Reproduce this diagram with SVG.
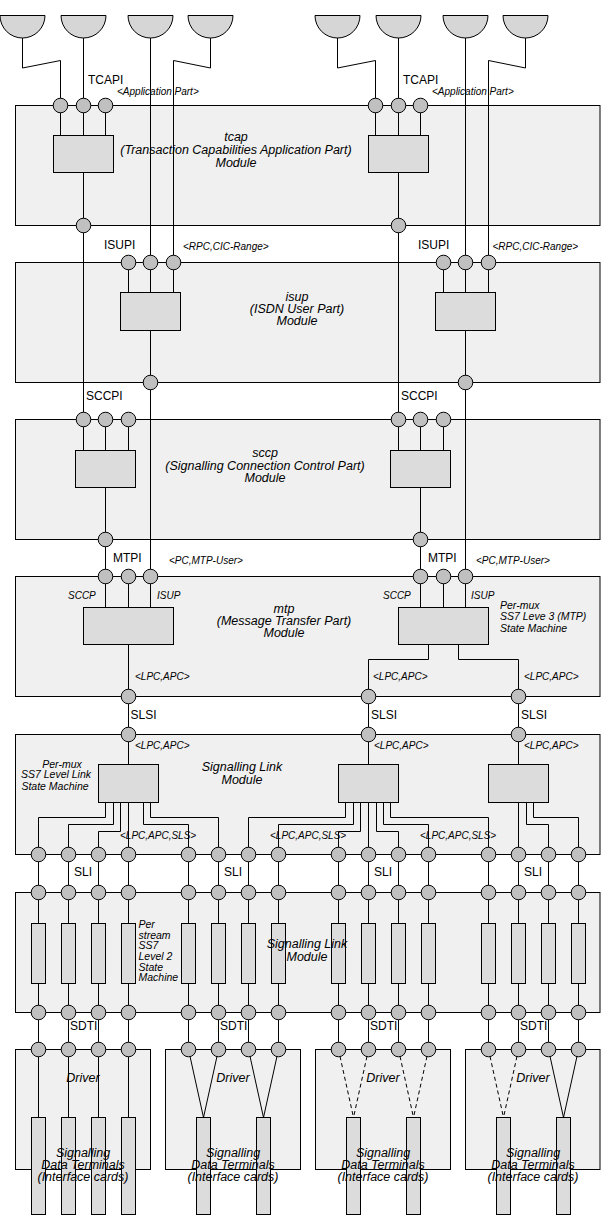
<svg xmlns="http://www.w3.org/2000/svg" width="601" height="1216" viewBox="0 0 601 1216">
<style>
.mod{fill:#f0f0f0;stroke:#000;stroke-width:1}
.box{fill:#dcdcdc;stroke:#000;stroke-width:1}
.cup{fill:#d6d6d6;stroke:#000;stroke-width:1}
.port{fill:#c0c0c0;stroke:#000;stroke-width:1}
#wires path{fill:none;stroke:#000;stroke-width:1}
#wires path.dash{stroke-dasharray:4 3}
text{font-family:"Liberation Sans",Arial,Helvetica,sans-serif;fill:#000}
.lbl{font-size:12px}
.sm{font-size:10px;font-style:italic}
.ttl{font-size:12.5px;font-style:italic;text-anchor:middle}
.note{font-size:10.5px;font-style:italic}
.mid{text-anchor:middle}
</style>
<defs><circle id="p" r="7.3" class="port"/></defs>
<rect width="601" height="1216" fill="#fff"/>

<!-- application endpoints -->
<g id="app-1"><path class="cup" d="M0,15.5 A22.5,22.5 0 0 0 45,15.5 Z"/></g>
<g id="app-2"><path class="cup" d="M61,15.5 A22.5,22.5 0 0 0 106,15.5 Z"/></g>
<g id="app-3"><path class="cup" d="M128,15.5 A22.5,22.5 0 0 0 173,15.5 Z"/></g>
<g id="app-4"><path class="cup" d="M188,15.5 A22.5,22.5 0 0 0 233,15.5 Z"/></g>
<g id="app-5"><path class="cup" d="M315,15.5 A22.5,22.5 0 0 0 360,15.5 Z"/></g>
<g id="app-6"><path class="cup" d="M376,15.5 A22.5,22.5 0 0 0 421,15.5 Z"/></g>
<g id="app-7"><path class="cup" d="M443,15.5 A22.5,22.5 0 0 0 488,15.5 Z"/></g>
<g id="app-8"><path class="cup" d="M503,15.5 A22.5,22.5 0 0 0 548,15.5 Z"/></g>

<!-- modules -->
<g id="tcap">
<rect class="mod" x="15.5" y="105.5" width="584.5" height="120"/>
<g id="tcap-sm-a"><rect class="box" x="53.5" y="135.5" width="60" height="37"/></g>
<g id="tcap-sm-b"><rect class="box" x="368.5" y="135.5" width="60" height="37"/></g>
<text class="ttl" x="236" y="141">tcap</text>
<text class="ttl" x="236" y="154">(Transaction Capabilities Application Part)</text>
<text class="ttl" x="236" y="167">Module</text>
</g>

<g id="isup">
<rect class="mod" x="15.5" y="262.5" width="584.5" height="120"/>
<g id="isup-sm-a"><rect class="box" x="120.5" y="292.5" width="60" height="38"/></g>
<g id="isup-sm-b"><rect class="box" x="435.5" y="292.5" width="60" height="38"/></g>
<text class="ttl" x="297" y="300.5">isup</text>
<text class="ttl" x="297" y="312.5">(ISDN User Part)</text>
<text class="ttl" x="297" y="324.5">Module</text>
</g>

<g id="sccp">
<rect class="mod" x="15.5" y="419.5" width="584.5" height="120"/>
<g id="sccp-sm-a"><rect class="box" x="75.5" y="450.5" width="60" height="37"/></g>
<g id="sccp-sm-b"><rect class="box" x="390.5" y="450.5" width="60" height="37"/></g>
<text class="ttl" x="265" y="457">sccp</text>
<text class="ttl" x="265" y="469.5">(Signalling Connection Control Part)</text>
<text class="ttl" x="265" y="482">Module</text>
</g>

<g id="mtp">
<rect class="mod" x="15.5" y="576.5" width="584.5" height="120"/>
<g id="mtp-sm-a"><rect class="box" x="83.5" y="607.5" width="90" height="37"/></g>
<g id="mtp-sm-b"><rect class="box" x="398.5" y="607.5" width="90" height="37"/></g>
<text class="ttl" x="284" y="613">mtp</text>
<text class="ttl" x="284" y="625">(Message Transfer Part)</text>
<text class="ttl" x="284" y="637">Module</text>
<text class="sm" x="68" y="598.5">SCCP</text>
<text class="sm" x="157" y="598.5">ISUP</text>
<text class="sm" x="383" y="598.5">SCCP</text>
<text class="sm" x="471" y="598.5">ISUP</text>
<text class="note" x="500" y="608.5">Per-mux</text>
<text class="note" x="500" y="620">SS7 Leve 3 (MTP)</text>
<text class="note" x="500" y="631.5">State Machine</text>
</g>

<g id="sl">
<rect class="mod" x="15.5" y="734.5" width="584.5" height="120"/>
<g id="sl-sm-a"><rect class="box" x="98.5" y="764.5" width="60" height="38"/></g>
<g id="sl-sm-b"><rect class="box" x="338.5" y="764.5" width="60" height="38"/></g>
<g id="sl-sm-c"><rect class="box" x="488.5" y="764.5" width="60" height="38"/></g>
<text class="ttl" x="242" y="771">Signalling Link</text>
<text class="ttl" x="242" y="784">Module</text>
<text class="note mid" x="62" y="768">Per-mux</text>
<text class="note mid" x="56" y="778">SS7 Level Link</text>
<text class="note mid" x="55" y="789.5">State Machine</text>
</g>

<g id="l2">
<rect class="mod" x="15.5" y="892.5" width="584.5" height="120"/>
<g id="l2-sm">
<rect class="box" x="31.5" y="923.5" width="14" height="60"/>
<rect class="box" x="61.5" y="923.5" width="14" height="60"/>
<rect class="box" x="91.5" y="923.5" width="14" height="60"/>
<rect class="box" x="121.5" y="923.5" width="14" height="60"/>
<rect class="box" x="181.5" y="923.5" width="14" height="60"/>
<rect class="box" x="211.5" y="923.5" width="14" height="60"/>
<rect class="box" x="241.5" y="923.5" width="14" height="60"/>
<rect class="box" x="271.5" y="923.5" width="14" height="60"/>
<rect class="box" x="331.5" y="923.5" width="14" height="60"/>
<rect class="box" x="361.5" y="923.5" width="14" height="60"/>
<rect class="box" x="391.5" y="923.5" width="14" height="60"/>
<rect class="box" x="421.5" y="923.5" width="14" height="60"/>
<rect class="box" x="481.5" y="923.5" width="14" height="60"/>
<rect class="box" x="511.5" y="923.5" width="14" height="60"/>
<rect class="box" x="541.5" y="923.5" width="14" height="60"/>
<rect class="box" x="571.5" y="923.5" width="14" height="60"/>
</g>
<text class="ttl" x="307" y="947.5">Signalling Link</text>
<text class="ttl" x="307" y="960.5">Module</text>
<text class="note" x="138.5" y="927.5">Per</text>
<text class="note" x="138.5" y="938.5">stream</text>
<text class="note" x="138.5" y="949">SS7</text>
<text class="note" x="138.5" y="960">Level 2</text>
<text class="note" x="138.5" y="970.5">State</text>
<text class="note" x="138.5" y="981">Machine</text>
</g>

<g id="drv-1">
<rect class="mod" x="15.5" y="1049.5" width="135" height="120"/>
<rect class="box" x="31.5" y="1117.5" width="14" height="97"/>
<rect class="box" x="61.5" y="1117.5" width="14" height="97"/>
<rect class="box" x="91.5" y="1117.5" width="14" height="97"/>
<rect class="box" x="121.5" y="1117.5" width="14" height="97"/>
</g>
<g id="drv-2">
<rect class="mod" x="165.5" y="1049.5" width="135" height="120"/>
<rect class="box" x="196.5" y="1117.5" width="14" height="97"/>
<rect class="box" x="256.5" y="1117.5" width="14" height="97"/>
</g>
<g id="drv-3">
<rect class="mod" x="315.5" y="1049.5" width="135" height="120"/>
<rect class="box" x="346.5" y="1117.5" width="14" height="97"/>
<rect class="box" x="406.5" y="1117.5" width="14" height="97"/>
</g>
<g id="drv-4">
<rect class="mod" x="465.5" y="1049.5" width="134.5" height="120"/>
<rect class="box" x="496.5" y="1117.5" width="14" height="97"/>
<rect class="box" x="556.5" y="1117.5" width="14" height="97"/>
</g>

<!-- connectors -->
<g id="wires">
<path d="M22.5,38 V68 L60.5,60.5 V105.5"/>
<path d="M83.5,38 V105.5"/>
<path d="M150.5,38 V262.5"/>
<path d="M210.5,38 V68 L173.5,60.5 V262.5"/>
<path d="M337.5,38 V68 L375.5,60.5 V105.5"/>
<path d="M398.5,38 V105.5"/>
<path d="M465.5,38 V262.5"/>
<path d="M525.5,38 V68 L488.5,60.5 V262.5"/>
<path d="M60.5,105.5 V135.5 M83.5,105.5 V135.5 M105.5,105.5 V135.5 M83.5,172.5 V225.5"/>
<path d="M375.5,105.5 V135.5 M398.5,105.5 V135.5 M420.5,105.5 V135.5 M398.5,172.5 V225.5"/>
<path d="M83.5,225.5 V419.5"/>
<path d="M398.5,225.5 V419.5"/>
<path d="M128.5,262.5 V292.5 M150.5,262.5 V292.5 M173.5,262.5 V292.5 M150.5,330.5 V382.5"/>
<path d="M443.5,262.5 V292.5 M465.5,262.5 V292.5 M488.5,262.5 V292.5 M465.5,330.5 V382.5"/>
<path d="M150.5,382.5 V576.5"/>
<path d="M465.5,382.5 V576.5"/>
<path d="M83.5,419.5 V450.5 M105.5,419.5 V450.5 M128.5,419.5 V450.5 M105.5,487.5 V539.5"/>
<path d="M398.5,419.5 V450.5 M420.5,419.5 V450.5 M443.5,419.5 V450.5 M420.5,487.5 V539.5"/>
<path d="M105.5,539.5 V576.5"/>
<path d="M420.5,539.5 V576.5"/>
<path d="M105.5,576.5 V607.5 M128.5,576.5 V607.5 M150.5,576.5 V607.5 M128.5,644.5 V696.5"/>
<path d="M420.5,576.5 V607.5 M443.5,576.5 V607.5 M465.5,576.5 V607.5"/>
<path d="M428.5,644.5 V659.5 H368.5 V696.5"/>
<path d="M458.5,644.5 V659.5 H518.5 V696.5"/>
<path d="M128.5,696.5 V764.5"/>
<path d="M368.5,696.5 V764.5"/>
<path d="M518.5,696.5 V764.5"/>
<path d="M105.5,802.5 V817.5 H38.5 V854.5"/>
<path d="M113.5,802.5 V824.5 H68.5 V854.5"/>
<path d="M120.5,802.5 V831.5 H98.5 V854.5"/>
<path d="M128.5,802.5 V854.5"/>
<path d="M143.5,802.5 V824.5 H188.5 V854.5"/>
<path d="M150.5,802.5 V817.5 H218.5 V854.5"/>
<path d="M345.5,802.5 V817.5 H248.5 V854.5"/>
<path d="M353.5,802.5 V824.5 H278.5 V854.5"/>
<path d="M360.5,802.5 V831.5 H338.5 V854.5"/>
<path d="M368.5,802.5 V854.5"/>
<path d="M376.5,802.5 V831.5 H398.5 V854.5"/>
<path d="M383.5,802.5 V824.5 H428.5 V854.5"/>
<path d="M390.5,802.5 V817.5 H488.5 V854.5"/>
<path d="M518.5,802.5 V854.5"/>
<path d="M526.5,802.5 V824.5 H548.5 V854.5"/>
<path d="M533.5,802.5 V817.5 H578.5 V854.5"/>
<path d="M38.5,854.5 V923.5 M38.5,983.5 V1049.5 M68.5,854.5 V923.5 M68.5,983.5 V1049.5 M98.5,854.5 V923.5 M98.5,983.5 V1049.5 M128.5,854.5 V923.5 M128.5,983.5 V1049.5"/>
<path d="M188.5,854.5 V923.5 M188.5,983.5 V1049.5 M218.5,854.5 V923.5 M218.5,983.5 V1049.5 M248.5,854.5 V923.5 M248.5,983.5 V1049.5 M278.5,854.5 V923.5 M278.5,983.5 V1049.5"/>
<path d="M338.5,854.5 V923.5 M338.5,983.5 V1049.5 M368.5,854.5 V923.5 M368.5,983.5 V1049.5 M398.5,854.5 V923.5 M398.5,983.5 V1049.5 M428.5,854.5 V923.5 M428.5,983.5 V1049.5"/>
<path d="M488.5,854.5 V923.5 M488.5,983.5 V1049.5 M518.5,854.5 V923.5 M518.5,983.5 V1049.5 M548.5,854.5 V923.5 M548.5,983.5 V1049.5 M578.5,854.5 V923.5 M578.5,983.5 V1049.5"/>
<path d="M38.5,1049.5 V1117.5 M68.5,1049.5 V1117.5 M98.5,1049.5 V1117.5 M128.5,1049.5 V1117.5"/>
<path d="M188.5,1049.5 L203.5,1117.5 M218.5,1049.5 L203.5,1117.5"/>
<path d="M248.5,1049.5 L263.5,1117.5 M278.5,1049.5 L263.5,1117.5"/>
<path class="dash" d="M338.5,1049.5 L353.5,1117.5 M368.5,1049.5 L353.5,1117.5"/>
<path class="dash" d="M398.5,1049.5 L413.5,1117.5 M428.5,1049.5 L413.5,1117.5"/>
<path class="dash" d="M488.5,1049.5 L503.5,1117.5 M518.5,1049.5 L503.5,1117.5"/>
<path d="M548.5,1049.5 L563.5,1117.5 M578.5,1049.5 L563.5,1117.5"/>
</g>

<!-- ports / interfaces -->
<g id="tcapi-a"><use href="#p" x="60.5" y="105.5"/><use href="#p" x="83.5" y="105.5"/><use href="#p" x="105.5" y="105.5"/>
<text class="lbl" x="88" y="84">TCAPI</text><text class="sm" x="117" y="95">&lt;Application Part&gt;</text></g>
<g id="tcapi-b"><use href="#p" x="375.5" y="105.5"/><use href="#p" x="398.5" y="105.5"/><use href="#p" x="420.5" y="105.5"/>
<text class="lbl" x="403" y="84">TCAPI</text><text class="sm" x="432" y="95">&lt;Application Part&gt;</text></g>
<g id="tcap-out-a"><use href="#p" x="83.5" y="225.5"/></g>
<g id="tcap-out-b"><use href="#p" x="398.5" y="225.5"/></g>

<g id="isupi-a"><use href="#p" x="128.5" y="262.5"/><use href="#p" x="150.5" y="262.5"/><use href="#p" x="173.5" y="262.5"/>
<text class="lbl" x="104" y="248.5">ISUPI</text><text class="sm" x="183" y="250">&lt;RPC,CIC-Range&gt;</text></g>
<g id="isupi-b"><use href="#p" x="443.5" y="262.5"/><use href="#p" x="465.5" y="262.5"/><use href="#p" x="488.5" y="262.5"/>
<text class="lbl" x="418" y="248.5">ISUPI</text><text class="sm" x="492.5" y="250">&lt;RPC,CIC-Range&gt;</text></g>
<g id="isup-out-a"><use href="#p" x="150.5" y="382.5"/></g>
<g id="isup-out-b"><use href="#p" x="465.5" y="382.5"/></g>

<g id="sccpi-a"><use href="#p" x="83.5" y="419.5"/><use href="#p" x="105.5" y="419.5"/><use href="#p" x="128.5" y="419.5"/>
<text class="lbl" x="86" y="400">SCCPI</text></g>
<g id="sccpi-b"><use href="#p" x="398.5" y="419.5"/><use href="#p" x="420.5" y="419.5"/><use href="#p" x="443.5" y="419.5"/>
<text class="lbl" x="401" y="400">SCCPI</text></g>
<g id="sccp-out-a"><use href="#p" x="105.5" y="539.5"/></g>
<g id="sccp-out-b"><use href="#p" x="420.5" y="539.5"/></g>

<g id="mtpi-a"><use href="#p" x="105.5" y="576.5"/><use href="#p" x="128.5" y="576.5"/><use href="#p" x="150.5" y="576.5"/>
<text class="lbl" x="113" y="562">MTPI</text><text class="sm" x="169" y="564">&lt;PC,MTP-User&gt;</text></g>
<g id="mtpi-b"><use href="#p" x="420.5" y="576.5"/><use href="#p" x="443.5" y="576.5"/><use href="#p" x="465.5" y="576.5"/>
<text class="lbl" x="428" y="562">MTPI</text><text class="sm" x="476" y="564">&lt;PC,MTP-User&gt;</text></g>

<g id="slsi-a"><use href="#p" x="128.5" y="696.5"/><use href="#p" x="128.5" y="734.5"/>
<text class="sm" x="135" y="680">&lt;LPC,APC&gt;</text><text class="lbl" x="130.5" y="718.5">SLSI</text><text class="sm" x="135" y="749">&lt;LPC,APC&gt;</text></g>
<g id="slsi-b"><use href="#p" x="368.5" y="696.5"/><use href="#p" x="368.5" y="734.5"/>
<text class="sm" x="373" y="680">&lt;LPC,APC&gt;</text><text class="lbl" x="371" y="718.5">SLSI</text><text class="sm" x="374" y="749">&lt;LPC,APC&gt;</text></g>
<g id="slsi-c"><use href="#p" x="518.5" y="696.5"/><use href="#p" x="518.5" y="734.5"/>
<text class="sm" x="524" y="680">&lt;LPC,APC&gt;</text><text class="lbl" x="521" y="718.5">SLSI</text><text class="sm" x="524" y="749">&lt;LPC,APC&gt;</text></g>

<g id="sli">
<use href="#p" x="38.5" y="854.5"/><use href="#p" x="68.5" y="854.5"/><use href="#p" x="98.5" y="854.5"/><use href="#p" x="128.5" y="854.5"/>
<use href="#p" x="188.5" y="854.5"/><use href="#p" x="218.5" y="854.5"/><use href="#p" x="248.5" y="854.5"/><use href="#p" x="278.5" y="854.5"/>
<use href="#p" x="338.5" y="854.5"/><use href="#p" x="368.5" y="854.5"/><use href="#p" x="398.5" y="854.5"/><use href="#p" x="428.5" y="854.5"/>
<use href="#p" x="488.5" y="854.5"/><use href="#p" x="518.5" y="854.5"/><use href="#p" x="548.5" y="854.5"/><use href="#p" x="578.5" y="854.5"/>
<use href="#p" x="38.5" y="892.5"/><use href="#p" x="68.5" y="892.5"/><use href="#p" x="98.5" y="892.5"/><use href="#p" x="128.5" y="892.5"/>
<use href="#p" x="188.5" y="892.5"/><use href="#p" x="218.5" y="892.5"/><use href="#p" x="248.5" y="892.5"/><use href="#p" x="278.5" y="892.5"/>
<use href="#p" x="338.5" y="892.5"/><use href="#p" x="368.5" y="892.5"/><use href="#p" x="398.5" y="892.5"/><use href="#p" x="428.5" y="892.5"/>
<use href="#p" x="488.5" y="892.5"/><use href="#p" x="518.5" y="892.5"/><use href="#p" x="548.5" y="892.5"/><use href="#p" x="578.5" y="892.5"/>
<text class="sm" x="120" y="838.5">&lt;LPC,APC,SLS&gt;</text>
<text class="sm" x="270" y="838.5">&lt;LPC,APC,SLS&gt;</text>
<text class="sm" x="420" y="838.5">&lt;LPC,APC,SLS&gt;</text>
<text class="lbl" x="74" y="876">SLI</text>
<text class="lbl" x="224" y="876">SLI</text>
<text class="lbl" x="374" y="876">SLI</text>
<text class="lbl" x="524" y="876">SLI</text>
</g>

<g id="sdti">
<use href="#p" x="38.5" y="1012.5"/><use href="#p" x="68.5" y="1012.5"/><use href="#p" x="98.5" y="1012.5"/><use href="#p" x="128.5" y="1012.5"/>
<use href="#p" x="188.5" y="1012.5"/><use href="#p" x="218.5" y="1012.5"/><use href="#p" x="248.5" y="1012.5"/><use href="#p" x="278.5" y="1012.5"/>
<use href="#p" x="338.5" y="1012.5"/><use href="#p" x="368.5" y="1012.5"/><use href="#p" x="398.5" y="1012.5"/><use href="#p" x="428.5" y="1012.5"/>
<use href="#p" x="488.5" y="1012.5"/><use href="#p" x="518.5" y="1012.5"/><use href="#p" x="548.5" y="1012.5"/><use href="#p" x="578.5" y="1012.5"/>
<use href="#p" x="38.5" y="1049.5"/><use href="#p" x="68.5" y="1049.5"/><use href="#p" x="98.5" y="1049.5"/><use href="#p" x="128.5" y="1049.5"/>
<use href="#p" x="188.5" y="1049.5"/><use href="#p" x="218.5" y="1049.5"/><use href="#p" x="248.5" y="1049.5"/><use href="#p" x="278.5" y="1049.5"/>
<use href="#p" x="338.5" y="1049.5"/><use href="#p" x="368.5" y="1049.5"/><use href="#p" x="398.5" y="1049.5"/><use href="#p" x="428.5" y="1049.5"/>
<use href="#p" x="488.5" y="1049.5"/><use href="#p" x="518.5" y="1049.5"/><use href="#p" x="548.5" y="1049.5"/><use href="#p" x="578.5" y="1049.5"/>
<text class="lbl" x="70" y="1030">SDTI</text>
<text class="lbl" x="220" y="1030">SDTI</text>
<text class="lbl" x="370" y="1030">SDTI</text>
<text class="lbl" x="520" y="1030">SDTI</text>
</g>

<!-- driver labels -->
<g id="drv-labels">
<text class="ttl" x="83" y="1082">Driver</text>
<text class="ttl" x="233" y="1082">Driver</text>
<text class="ttl" x="383" y="1082">Driver</text>
<text class="ttl" x="533" y="1082">Driver</text>
<text class="ttl" x="83" y="1157">Signalling</text>
<text class="ttl" x="83" y="1169">Data Terminals</text>
<text class="ttl" x="83" y="1181">(Interface cards)</text>
<text class="ttl" x="233" y="1157">Signalling</text>
<text class="ttl" x="233" y="1169">Data Terminals</text>
<text class="ttl" x="233" y="1181">(Interface cards)</text>
<text class="ttl" x="383" y="1157">Signalling</text>
<text class="ttl" x="383" y="1169">Data Terminals</text>
<text class="ttl" x="383" y="1181">(Interface cards)</text>
<text class="ttl" x="533" y="1157">Signalling</text>
<text class="ttl" x="533" y="1169">Data Terminals</text>
<text class="ttl" x="533" y="1181">(Interface cards)</text>
</g>
</svg>
